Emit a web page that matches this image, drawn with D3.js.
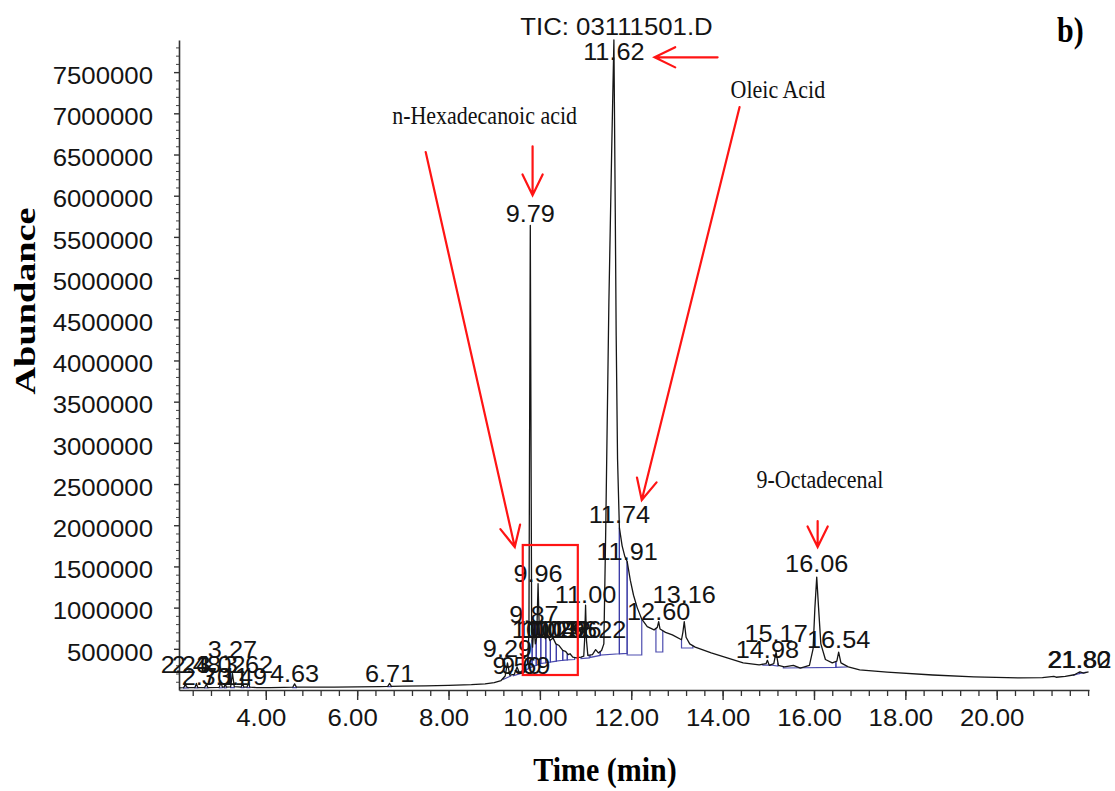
<!DOCTYPE html>
<html>
<head>
<meta charset="utf-8">
<script src="https://cdn.jsdelivr.net/npm/d3@7"></script>
<style>
  body { margin: 0; background: #fff; }
  svg { display: block; }
</style>
</head>
<body>
<svg id="chart" width="1115" height="791"></svg>
<script>
// ---- Total ion chromatogram (TIC) ----
// Detector trace: retention time (min) and abundance
const traceTime = [
  2.10, 2.20, 2.22, 2.24, 2.26, 2.30, 2.45, 2.48, 2.51, 2.66, 2.70, 2.73,
  2.98, 3.02, 3.05, 3.09, 3.11, 3.14, 3.23, 3.27, 3.31, 3.46, 3.49, 3.52,
  3.59, 3.62, 3.65, 3.80, 4.10, 4.40, 4.59, 4.63, 4.67, 5.00, 5.50, 6.00,
  6.50, 6.67, 6.71, 6.75, 7.00, 7.50, 8.00, 8.50, 8.80, 9.00, 9.15, 9.24,
  9.29, 9.34, 9.44, 9.50, 9.55, 9.63, 9.69, 9.73, 9.76, 9.79, 9.82, 9.84,
  9.87, 9.90, 9.93, 9.96, 9.99, 10.04, 10.08, 10.12, 10.17, 10.22, 10.29, 10.35,
  10.42, 10.50, 10.56, 10.62, 10.66, 10.72, 10.80, 10.90, 10.96, 10.98, 11.00, 11.02,
  11.05, 11.15, 11.22, 11.28, 11.35, 11.40, 11.44, 11.51, 11.57, 11.62, 11.65, 11.67,
  11.70, 11.74, 11.80, 11.86, 11.91, 11.98, 12.05, 12.13, 12.23, 12.35, 12.50, 12.57,
  12.60, 12.63, 12.75, 12.90, 13.10, 13.13, 13.16, 13.20, 13.28, 13.40, 13.75, 14.10,
  14.45, 14.80, 14.95, 14.98, 15.02, 15.12, 15.17, 15.22, 15.35, 15.55, 15.70, 15.90,
  15.98, 16.02, 16.06, 16.10, 16.15, 16.25, 16.40, 16.50, 16.54, 16.59, 16.75, 17.00,
  17.60, 18.60, 19.50, 20.50, 21.00, 21.25, 21.30, 21.50, 21.70, 21.80, 21.82, 21.90,
  22.01
];
const traceAbundance = [
  25000, 28000, 45000, 90000, 40000, 28000, 30000, 80000, 30000, 30000, 70000, 30000,
  32000, 90000, 35000, 35000, 70000, 35000, 38000, 200000, 40000, 35000, 80000, 35000,
  35000, 90000, 35000, 30000, 30000, 32000, 34000, 75000, 35000, 34000, 36000, 38000,
  42000, 44000, 80000, 45000, 46000, 50000, 55000, 65000, 75000, 90000, 115000, 170000,
  330000, 180000, 190000, 280000, 210000, 240000, 300000, 320000, 700000, 5640000, 700000, 520000,
  790000, 560000, 640000, 1290000, 660000, 640000, 700000, 620000, 680000, 600000, 630000, 560000,
  540000, 480000, 470000, 430000, 440000, 400000, 390000, 400000, 410000, 620000, 1030000, 600000,
  420000, 430000, 490000, 450000, 480000, 560000, 1900000, 4700000, 6500000, 7890000, 5800000, 4300000,
  2800000, 1970000, 1750000, 1620000, 1560000, 1330000, 1150000, 1000000, 860000, 770000, 730000, 760000,
  830000, 740000, 700000, 670000, 610000, 700000, 830000, 640000, 560000, 520000, 450000, 390000,
  330000, 305000, 320000, 360000, 300000, 320000, 460000, 300000, 280000, 300000, 265000, 300000,
  500000, 1000000, 1370000, 1000000, 560000, 370000, 330000, 350000, 460000, 330000, 280000, 245000,
  218000, 182000, 160000, 146000, 150000, 165000, 155000, 165000, 185000, 215000, 220000, 205000,
  220000
];

// Labelled peaks: retention time and the abundance level each label sits on
const peakRT = [
  2.24, 2.48, 2.70, 3.02, 3.11, 3.27, 3.49, 3.62, 4.63, 6.71,
  9.29, 9.50, 9.69, 9.79, 9.87, 9.96, 10.08, 10.17, 10.29, 10.42,
  10.56, 10.66, 11.00, 11.22, 11.62, 11.74, 11.91, 12.60, 13.16, 14.98,
  15.17, 16.06, 16.54, 21.80, 21.82
];
const peakLabelLevel = [
  206000, 206000, 61000, 206000, 61000, 388000, 61000, 206000, 97000, 97000,
  400000, 194000, 194000, 5680000, 813000, 1311000, 631000, 631000, 631000, 631000,
  631000, 631000, 1056000, 631000, 7646000, 2027000, 1578000, 850000, 1056000, 388000,
  583000, 1432000, 510000, 267000, 267000
];

// Integration events: start / end time and baseline abundance at each end
const intStart = [2.20, 2.45, 2.66, 2.98, 3.09, 3.23, 3.46, 3.59, 4.59, 6.67,
  9.20, 9.42, 9.60, 9.75, 9.83, 9.92, 10.02, 10.13, 10.23, 10.36, 10.50, 10.60,
  10.90, 11.10, 11.32, 11.74, 11.91, 12.54, 13.10, 14.88, 15.05, 15.33, 16.48, 21.68, 21.81];
const intEnd = [2.30, 2.51, 2.73, 3.05, 3.14, 3.31, 3.52, 3.65, 4.67, 6.75,
  9.36, 9.58, 9.75, 9.83, 9.92, 10.02, 10.13, 10.23, 10.36, 10.50, 10.60, 10.76,
  11.08, 11.32, 11.74, 11.91, 12.23, 12.69, 13.35, 15.05, 15.21, 16.48, 16.72, 21.81, 21.95];
const intBaseStart = [24000, 25000, 25000, 26000, 27000, 28000, 28000, 28000, 30000, 40000,
  130000, 175000, 210000, 260000, 280000, 300000, 320000, 330000, 340000, 350000, 360000, 365000,
  380000, 395000, 425000, 440000, 425000, 461000, 510000, 303000, 303000, 267000, 275000, 180000, 200000];
const intBaseEnd = [25000, 25000, 26000, 27000, 28000, 28000, 28000, 28000, 30000, 40000,
  170000, 200000, 260000, 280000, 300000, 320000, 330000, 340000, 350000, 360000, 365000, 370000,
  390000, 420000, 440000, 445000, 425000, 461000, 510000, 303000, 290000, 275000, 280000, 200000, 215000];

// Axis ticks
const xTickValues = [4, 6, 8, 10, 12, 14, 16, 18, 20];
const yTickValues = [500000, 1000000, 1500000, 2000000, 2500000, 3000000, 3500000,
  4000000, 4500000, 5000000, 5500000, 6000000, 6500000, 7000000, 7500000];

// Compound annotations (text and arrows in data units: time, abundance)
const compoundNames = ["n-Hexadecanoic acid", "Oleic Acid", "9-Octadecenal"];
const compoundTextPos = [[8.79, 6870000], [15.21, 7185000], [16.13, 2450000]];
const arrowFrom = [[13.89, 7680000], [9.84, 6600000], [7.50, 6530000], [14.37, 7075000], [16.08, 2051000]];
const arrowTo = [[12.51, 7680000], [9.84, 6007000], [9.45, 1735000], [12.23, 2306000], [16.08, 1735000]];
const highlightBox = { t0: 9.625, t1: 10.83, v0: 182000, v1: 1760000 };

// ---- drawing ----
const svg = d3.select("#chart");
const sans = '"Liberation Sans", Arial, Helvetica, sans-serif';
const serif = '"Liberation Serif", "Times New Roman", Times, serif';

const x = d3.scaleLinear().domain([2.10, 22.02]).range([179, 1089]);
const y = d3.scaleLinear().domain([0, 7890000]).range([690, 40]);

function stretch(sel, k) {
  sel.each(function () {
    const w = this.getComputedTextLength();
    d3.select(this).attr("textLength", w * k).attr("lengthAdjust", "spacingAndGlyphs");
  });
}

const trace = traceTime.map((t, i) => [t, traceAbundance[i]]);
const bisect = d3.bisector(d => d[0]).left;
function signalAt(t) {
  const i = Math.max(1, Math.min(trace.length - 1, bisect(trace, t)));
  const a = trace[i - 1], b = trace[i];
  const f = (t - a[0]) / (b[0] - a[0]);
  return a[1] + f * (b[1] - a[1]);
}

// Minor ticks
svg.append("g")
  .attr("transform", "translate(0,690)")
  .call(d3.axisBottom(x).tickValues(d3.range(6, 56).map(i => +(i * 0.4).toFixed(1)))
    .tickSize(6).tickFormat("").tickSizeOuter(0))
  .call(g => g.select(".domain").remove())
  .call(g => g.selectAll("line").attr("stroke", "#333").attr("stroke-width", 1.3));

svg.append("g")
  .attr("transform", "translate(179,0)")
  .call(d3.axisLeft(y).tickValues(d3.range(1, 79).filter(i => i % 5 !== 0).map(i => i * 100000))
    .tickSize(3).tickFormat("").tickSizeOuter(0))
  .call(g => g.select(".domain").remove())
  .call(g => g.selectAll("line").attr("stroke", "#444").attr("stroke-width", 1));

// Major axes
const xAxis = svg.append("g")
  .attr("transform", "translate(0,690)")
  .call(d3.axisBottom(x).tickValues(xTickValues).tickSize(10).tickPadding(9.4)
    .tickFormat(d3.format(".2f")).tickSizeOuter(0));
xAxis.select(".domain").attr("stroke", "#333").attr("stroke-width", 1.6);
xAxis.selectAll("line").attr("stroke", "#333").attr("stroke-width", 1.4);
xAxis.selectAll("text").attr("font-family", sans).attr("font-size", 23)
  .attr("fill", "#141414").attr("dx", -5).call(stretch, 1.12);

const yAxis = svg.append("g")
  .attr("transform", "translate(179,0)")
  .call(d3.axisLeft(y).tickValues(yTickValues).tickSize(5).tickPadding(21)
    .tickFormat(d3.format("d")).tickSizeOuter(0));
yAxis.select(".domain").attr("stroke", "#333").attr("stroke-width", 1.6);
yAxis.selectAll("line").attr("stroke", "#333").attr("stroke-width", 1.4);
yAxis.selectAll("text").attr("font-family", sans).attr("font-size", 23)
  .attr("fill", "#141414").attr("dy", "0.49em").call(stretch, 1.12);

// Integration baselines and drop lines
const integ = intStart.map((s, i) => [
  [s, signalAt(s)], [s, intBaseStart[i]], [intEnd[i], intBaseEnd[i]], [intEnd[i], signalAt(intEnd[i])]
]);
const line = d3.line().x(d => x(d[0])).y(d => y(d[1]));
svg.append("g").selectAll("path").data(integ).join("path")
  .attr("d", line).attr("fill", "none")
  .attr("stroke", "#3a3aa6").attr("stroke-width", 1.2).attr("opacity", 0.9);

// Chromatogram trace
svg.append("path").datum(trace)
  .attr("d", line).attr("fill", "none")
  .attr("stroke", "#161616").attr("stroke-width", 1.3).attr("stroke-linejoin", "round");

// Peak retention-time labels
svg.append("g").selectAll("text").data(peakRT).join("text")
  .attr("x", d => x(d)).attr("y", (d, i) => y(peakLabelLevel[i]))
  .attr("text-anchor", "middle").attr("font-family", sans).attr("font-size", 23)
  .attr("fill", "#141414")
  .text(d => d.toFixed(2))
  .call(stretch, 1.1);

// Title
svg.append("text").attr("x", 616.5).attr("y", 35).attr("text-anchor", "middle")
  .attr("font-family", sans).attr("font-size", 23).attr("fill", "#141414")
  .text("TIC: 03111501.D").call(stretch, 1.12);

// Panel letter
svg.append("text").attr("transform", "translate(1057,42) scale(1,1.22)")
  .attr("font-family", serif).attr("font-weight", "bold").attr("font-size", 30)
  .attr("fill", "#000").text("b)");

// Axis titles
svg.append("text").attr("transform", "translate(35,301) rotate(-90)")
  .attr("text-anchor", "middle").attr("font-family", serif).attr("font-weight", "bold")
  .attr("font-size", 29).attr("fill", "#000")
  .attr("textLength", 187).attr("lengthAdjust", "spacingAndGlyphs")
  .text("Abundance");
svg.append("text").attr("transform", "translate(605,781) scale(1,1.1)")
  .attr("text-anchor", "middle").attr("font-family", serif).attr("font-weight", "bold")
  .attr("font-size", 30).attr("fill", "#000").text("Time (min)");

// Compound names
svg.append("g").selectAll("text").data(compoundNames).join("text")
  .attr("transform", (d, i) => `translate(${x(compoundTextPos[i][0])},${y(compoundTextPos[i][1])}) scale(1,1.12)`)
  .attr("text-anchor", "middle").attr("font-family", serif).attr("font-size", 22)
  .attr("fill", "#111").text(d => d);

// Red arrows
const red = "#ff1414";
const arrows = svg.append("g").attr("stroke", red).attr("stroke-width", 2.2)
  .attr("fill", "none").attr("stroke-linecap", "round");
arrowFrom.forEach((f, i) => {
  const x0 = x(f[0]), y0 = y(f[1]);
  const x1 = x(arrowTo[i][0]), y1 = y(arrowTo[i][1]);
  const ang = Math.atan2(y0 - y1, x0 - x1);
  const L = 23, a = 26 * Math.PI / 180;
  arrows.append("path").attr("d",
    `M${x0},${y0}L${x1},${y1}` +
    `M${x1 + L * Math.cos(ang + a)},${y1 + L * Math.sin(ang + a)}L${x1},${y1}` +
    `L${x1 + L * Math.cos(ang - a)},${y1 + L * Math.sin(ang - a)}`);
});

// Highlight box around the 9.6–10.8 min cluster
svg.append("rect")
  .attr("x", x(highlightBox.t0)).attr("y", y(highlightBox.v1))
  .attr("width", x(highlightBox.t1) - x(highlightBox.t0))
  .attr("height", y(highlightBox.v0) - y(highlightBox.v1))
  .attr("fill", "none").attr("stroke", red).attr("stroke-width", 2.2);
</script>
</body>
</html>
